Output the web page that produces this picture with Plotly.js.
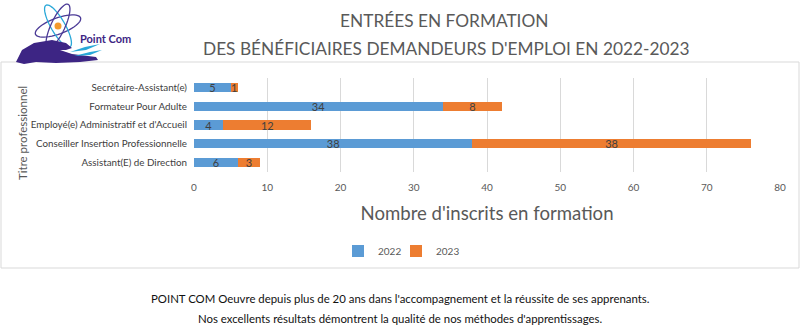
<!DOCTYPE html>
<html><head><meta charset="utf-8">
<script src="https://cdn.plot.ly/plotly-3.0.1.min.js"></script>
<style>html,body{margin:0;padding:0;background:#fff;}#chart{width:800px;height:327px;}</style>
</head><body><div id="chart"></div>
<script>
const categories = ["Assistant(E) de Direction","Conseiller Insertion Professionnelle","Employé(e) Administratif et d'Accueil","Formateur Pour Adulte","Secrétaire-Assistant(e)"];
const values2022 = [6, 38, 4, 34, 5];
const values2023 = [3, 38, 12, 8, 1];
const seriesNames = ["2022", "2023"];
const xTicks = [0,10,20,30,40,50,60,70,80];
const titleLines = ["ENTRÉES EN FORMATION", "DES BÉNÉFICIAIRES DEMANDEURS D'EMPLOI EN 2022-2023"];
const footerLines = ["POINT COM Oeuvre depuis plus de 20 ans dans l'accompagnement et la réussite de ses apprenants.", "Nos excellents résultats démontrent la qualité de nos méthodes d'apprentissages."];

const W = 800, H = 327;
const PL = 194, PR = 780, PT = 78, PB = 172;
const px = x => (x - PL) / (PR - PL), py = y => (PB - y) / (PB - PT);
function ellipsePath(cx, cy, rx, ry, rotDeg) {
  const r = rotDeg * Math.PI / 180; let d = "";
  for (let i = 0; i <= 48; i++) {
    const t = i / 48 * 2 * Math.PI;
    const ex = rx * Math.cos(t), ey = ry * Math.sin(t);
    const X = cx + ex * Math.cos(r) - ey * Math.sin(r);
    const Y = cy + ex * Math.sin(r) + ey * Math.cos(r);
    d += (i ? "L" : "M") + px(X).toFixed(5) + "," + py(Y).toFixed(5);
  }
  return d + "Z";
}
function polyPath(pts) {
  return pts.map((p, i) => (i ? "L" : "M") + px(p[0]).toFixed(5) + "," + py(p[1]).toFixed(5)).join("") + "Z";
}

const font = "Lato, Open Sans, sans-serif";
const traces = [
  {type: "bar", orientation: "h", name: seriesNames[0], y: categories, x: values2022, legend: "legend",
   marker: {color: "#5B9BD5"}, text: values2022.map(String), textposition: "inside", insidetextanchor: "middle", constraintext: "none", textangle: 0,
   textfont: {color: "#404040", size: 11, family: font}, hoverinfo: "x+y"},
  {type: "bar", orientation: "h", name: seriesNames[1], y: categories, x: values2023, legend: "legend2",
   marker: {color: "#ED7D31"}, text: values2023.map(String), textposition: "inside", insidetextanchor: "middle", constraintext: "none", textangle: 0,
   textfont: {color: "#404040", size: 11, family: font}, hoverinfo: "x+y"}
];

const shapes = [
  {type: "rect", xref: "paper", yref: "paper", x0: px(1), x1: px(799), y0: py(268), y1: py(62), line: {color: "#d9d9d9", width: 1}, layer: "below"},
  // logo
  {type: "path", xref: "paper", yref: "paper", path: ellipsePath(58, 26, 24, 8, -20), line: {color: "#4b3a96", width: 1.3}},
  {type: "path", xref: "paper", yref: "paper", path: ellipsePath(58, 26, 24, 7, 60), line: {color: "#2aa8d8", width: 1.3}},
  {type: "path", xref: "paper", yref: "paper", path: ellipsePath(58, 26, 24, 7, 115), line: {color: "#4b3a96", width: 1.3}},
  {type: "circle", xref: "paper", yref: "paper", x0: px(54.5), x1: px(61.5), y0: py(29.5), y1: py(22.5), fillcolor: "#f39a2c", line: {width: 0}},
  {type: "path", xref: "paper", yref: "paper", path: polyPath([[16,62],[22,50],[34,43],[52,40],[66,43],[72,48],[66,50],[60,50],[72,54],[96,57],[98,60],[80,62],[56,63],[36,62],[24,64]]), fillcolor: "#3d2584", line: {width: 0}},
  {type: "path", xref: "paper", yref: "paper", path: polyPath([[70,52],[85,47],[100,44],[86,50]]), fillcolor: "#2aa8d8", line: {width: 0}},
  {type: "path", xref: "paper", yref: "paper", path: polyPath([[74,56],[90,52],[102,50],[90,55]]), fillcolor: "#2aa8d8", line: {width: 0}}
];

const annotations = [
  {xref: "paper", yref: "paper", x: px(444), y: py(20), text: titleLines[0], showarrow: false, xanchor: "center", yanchor: "middle", font: {family: font, size: 17.3, color: "#595959"}},
  {xref: "paper", yref: "paper", x: px(446), y: py(49), text: titleLines[1], showarrow: false, xanchor: "center", yanchor: "middle", font: {family: font, size: 17.3, color: "#595959"}},
  {xref: "paper", yref: "paper", x: px(22), y: py(133), text: "Titre professionnel", textangle: -90, showarrow: false, xanchor: "center", yanchor: "middle", font: {family: font, size: 11.5, color: "#595959"}},
  {xref: "paper", yref: "paper", x: px(400), y: py(298), text: footerLines[0], showarrow: false, xanchor: "center", yanchor: "middle", font: {family: font, size: 11.4, color: "#111"}},
  {xref: "paper", yref: "paper", x: px(400), y: py(318), text: footerLines[1], showarrow: false, xanchor: "center", yanchor: "middle", font: {family: font, size: 11.4, color: "#111"}},
  {xref: "paper", yref: "paper", x: px(105), y: py(39), text: "<b>Point Com</b>", showarrow: false, xanchor: "center", yanchor: "middle", font: {family: font, size: 11, color: "#3d2584"}}
];

const legendBase = {orientation: "h", xanchor: "left", yanchor: "middle", y: py(251), font: {family: font, size: 10, color: "#595959"}, bgcolor: "rgba(0,0,0,0)", itemwidth: 30};
const layout = {
  width: W, height: H,
  margin: {l: PL, r: W - PR, t: PT, b: H - PB, pad: 0},
  paper_bgcolor: "#fff", plot_bgcolor: "#fff",
  barmode: "stack", bargap: 0.52,
  showlegend: true,
  legend: Object.assign({}, legendBase, {x: px(338)}),
  legend2: Object.assign({}, legendBase, {x: px(396)}),
  xaxis: {range: [0, 80], tickvals: xTicks, showgrid: true, gridcolor: "#d9d9d9", zeroline: false, showline: false,
    tickfont: {family: font, size: 10, color: "#595959"}, ticks: "", ticklabelstandoff: 8,
    title: {text: "Nombre d'inscrits en formation", font: {family: font, size: 18.6, color: "#595959"}, standoff: 14}},
  yaxis: {categoryorder: "array", categoryarray: categories, showgrid: false, zeroline: false, showline: false, ticks: "",
    tickfont: {family: font, size: 9.8, color: "#404040"}, ticklabelstandoff: 6},
  font: {family: font},
  shapes: shapes, annotations: annotations
};
Plotly.newPlot("chart", traces, layout, {displayModeBar: false, staticPlot: true});
</script></body></html>
